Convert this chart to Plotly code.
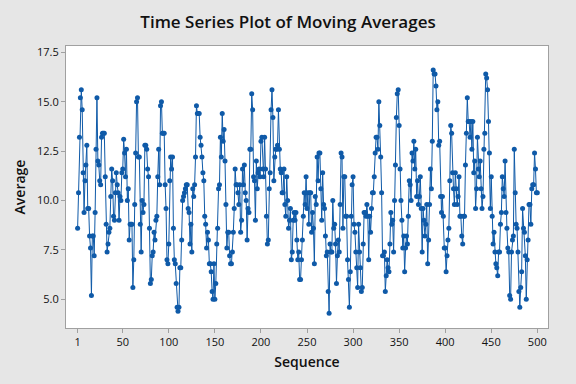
import plotly.graph_objects as go

seg1 = [8.6, 10.4, 13.2, 15.2, 15.6, 14.6, 11.4, 9.4, 11.0, 11.8, 12.8, 9.6, 9.6, 8.2, 7.6, 5.2, 8.2, 8.2, 7.2, 9.4,
        12.6, 15.2, 12.0, 11.8, 11.0, 10.8, 13.2, 13.4, 13.4, 13.4, 11.2, 8.8, 7.4, 7.8, 8.4, 8.6, 10.2, 11.6, 11.0, 9.2,
        9.0, 10.4, 11.4, 10.8, 10.4]
seg2 = [9.0, 10.2, 10.0, 11.4, 11.6, 13.1, 12.4, 11.2, 12.6, 10.0, 10.6, 8.0, 8.8, 8.8, 8.8, 5.6, 7.0, 9.8, 12.4, 15.0,
        15.2, 12.2, 12.2, 8.8, 7.4, 10.0, 9.4, 9.8, 12.8, 12.8, 12.6, 11.6, 11.2, 8.6, 5.8, 6.0, 7.2, 7.4, 8.4, 8.0,
        9.0, 9.2, 11.2, 12.6, 10.8, 14.8, 15.0, 13.4, 13.4, 13.4, 10.8, 9.6, 7.0, 6.8]
seg3 = [7.8, 11.0, 12.2, 11.6, 12.2, 8.6, 7.0, 6.8, 5.8, 4.6, 4.4, 4.6, 6.6, 6.6, 8.0, 10.0, 10.2, 10.4, 10.6, 10.8,
        10.8, 9.6, 9.4, 7.8, 8.8, 7.4, 10.6, 10.2, 10.8, 12.2, 14.8, 14.4, 14.4, 14.4, 13.2, 12.8, 12.2, 11.4, 11.0, 9.2,
        8.8, 7.6, 8.4, 8.0, 6.8, 6.8, 6.4, 5.4, 5.0]
seg4 = [6.8, 5.0, 5.8, 7.8, 8.6, 10.6, 10.8, 13.2, 12.2, 14.4, 13.0, 13.6, 12.0, 9.8, 7.6, 8.4, 8.4, 7.2, 6.8, 6.8,
        7.4, 8.4, 9.6, 11.6, 10.8, 10.8, 10.4, 9.8, 10.8, 8.4, 9.0, 11.6, 10.8, 11.8, 10.4, 10.0, 8.0, 9.6, 9.4, 12.6,
        12.6, 15.4, 14.6, 11.2, 11.0, 9.0, 12.0, 10.6, 11.4, 11.6, 11.2, 13.0, 13.2, 11.6]
seg5 = [11.2, 13.2, 11.6, 9.2, 7.8, 8.0, 10.6, 11.4, 14.6, 15.6, 14.2, 11.0, 12.2, 12.6, 12.6, 12.8, 14.6, 12.6, 11.6, 11.4,
        10.4, 10.4, 11.6, 9.8, 9.2, 11.2, 10.0, 8.6, 9.0, 9.6, 7.0, 7.4, 9.0, 9.4, 9.0, 9.4, 8.0, 7.0, 7.4, 6.0,
        6.0, 7.0, 8.0, 9.2, 10.4, 9.8, 11.2, 9.6, 10.4, 8.8, 10.4, 10.4, 8.4]
seg6 = [9.4, 8.6, 6.8, 10.2, 9.8, 12.2, 11.0, 12.4, 12.4, 10.6, 9.0, 11.4, 9.8, 9.6, 8.2, 7.2, 7.4, 5.4, 4.3, 7.8,
        7.4, 7.4, 10.0, 8.6, 8.8, 7.8, 5.8, 7.2, 8.0, 7.4, 9.8, 12.4, 12.2, 8.6, 11.2, 11.2, 9.2, 9.2, 7.0, 6.0,
        4.6, 6.4, 9.2, 10.8, 11.2, 8.8, 8.4, 7.4, 6.6, 5.6]
seg7 = [8.8, 7.4, 6.6, 5.4, 5.6, 7.8, 9.4, 9.4, 9.2, 9.8, 9.2, 7.0, 9.2, 8.4, 9.6, 10.4, 10.4, 11.2, 12.4, 13.2,
        13.2, 12.6, 15.0, 13.8, 12.2, 10.4, 7.2, 7.2, 7.4, 5.4, 6.2, 7.0, 6.6, 6.4, 7.8, 9.4, 8.8, 9.0, 7.4, 10.0,
        11.8, 14.2, 15.4, 15.6, 13.8, 11.6, 10.0, 9.0, 7.6, 8.2, 6.4, 7.6]
seg8 = [8.2, 7.8, 9.2, 11.0, 10.8, 10.0, 12.4, 12.0, 13.0, 11.6, 12.6, 10.2, 11.0, 9.8, 10.2, 11.2, 9.6, 7.4, 9.6, 9.0,
        8.2, 8.8, 9.8, 6.8, 8.0, 9.8, 11.6, 10.6, 13.0, 16.6, 16.4, 16.4, 15.8, 14.6, 15.0, 12.8, 13.0, 10.2, 9.4, 10.2,
        9.2, 7.6, 7.6, 6.4, 7.2, 8.0, 8.6, 11.0, 13.8, 13.4, 11.4, 10.6, 9.8]
seg9 = [11.4, 10.6, 9.8, 10.2, 11.2, 9.2, 9.2, 8.2, 7.8, 9.2, 9.2, 11.8, 13.4, 15.2, 14.0, 14.0, 13.2, 14.0, 12.6, 14.0,
        11.4, 12.0, 9.6, 10.6, 13.2, 11.6, 11.2, 12.0, 10.6, 9.6, 10.2, 12.6, 13.4, 16.4, 16.2, 15.6, 14.0, 12.4, 9.6, 11.2,
        9.2, 7.8, 8.4, 7.4, 6.8, 6.6, 6.2, 7.4, 7.4, 8.8, 9.4, 11.2, 10.6, 10.2, 12.0]
seg10 = [9.4, 8.6, 7.6, 7.4, 5.2, 5.0, 7.4, 8.0, 8.2, 12.6, 10.4, 8.8, 8.6, 7.4, 5.4, 4.6, 5.6, 6.4, 9.6, 8.6,
         8.4, 7.2, 5.0, 7.0, 8.0, 9.8, 9.8, 8.8, 10.6, 10.8, 10.8, 12.4, 11.6, 10.4, 10.4]

average = seg1 + seg2 + seg3 + seg4 + seg5 + seg6 + seg7 + seg8 + seg9 + seg10
sequence = list(range(1, len(average) + 1))

x_ticks = [1, 50, 100, 150, 200, 250, 300, 350, 400, 450, 500]
y_ticks = [5.0, 7.5, 10.0, 12.5, 15.0, 17.5]

blue = "#0F5AA8"
font_family = "Open Sans, Noto Sans, DejaVu Sans, sans-serif"

fig = go.Figure()
fig.add_trace(go.Scatter(
    x=sequence, y=average, mode="lines+markers",
    line=dict(color=blue, width=1),
    marker=dict(color=blue, size=5),
    showlegend=False,
))

fig.update_layout(
    width=576, height=384,
    paper_bgcolor="#E6E6E6", plot_bgcolor="white",
    margin=dict(l=66, r=28, t=46, b=56),
    font=dict(family=font_family, color="#111111"),
    title=dict(text="Time Series Plot of Moving Averages", x=0.5, xref="container",
               y=1 - 22 / 384, yref="container", yanchor="middle", xanchor="center",
               font=dict(size=17, color="#111111", family=font_family, weight=600)),
)
fig.update_xaxes(
    range=[-11.6, 511.6], tickvals=x_ticks, ticktext=[str(t) for t in x_ticks],
    showgrid=False, zeroline=False, showline=True, linecolor="#A0A0A0", linewidth=1, mirror=True,
    ticks="outside", ticklen=4, tickcolor="#A0A0A0", tickfont=dict(size=11),
    title=dict(text="Sequence", font=dict(size=14, weight=600), standoff=8),
    automargin=False,
)
fig.update_yaxes(
    range=[3.55, 17.82], tickvals=y_ticks, ticktext=[f"{t:.1f}" for t in y_ticks],
    showgrid=False, zeroline=False, showline=True, linecolor="#A0A0A0", linewidth=1, mirror=True,
    ticks="outside", ticklen=4, tickcolor="#A0A0A0", tickfont=dict(size=11),
    title=dict(text="Average", font=dict(size=14, weight=600), standoff=8),
    automargin=False,
)

fig.write_html("out.html", config={"displayModeBar": False})

# remove the default page margin so the figure sits at the window's top-left corner
with open("out.html", "r", encoding="utf-8") as f:
    html = f.read()
html = html.replace("<head>", "<head><style>html,body{margin:0;padding:0;}</style>", 1)
with open("out.html", "w", encoding="utf-8") as f:
    f.write(html)
